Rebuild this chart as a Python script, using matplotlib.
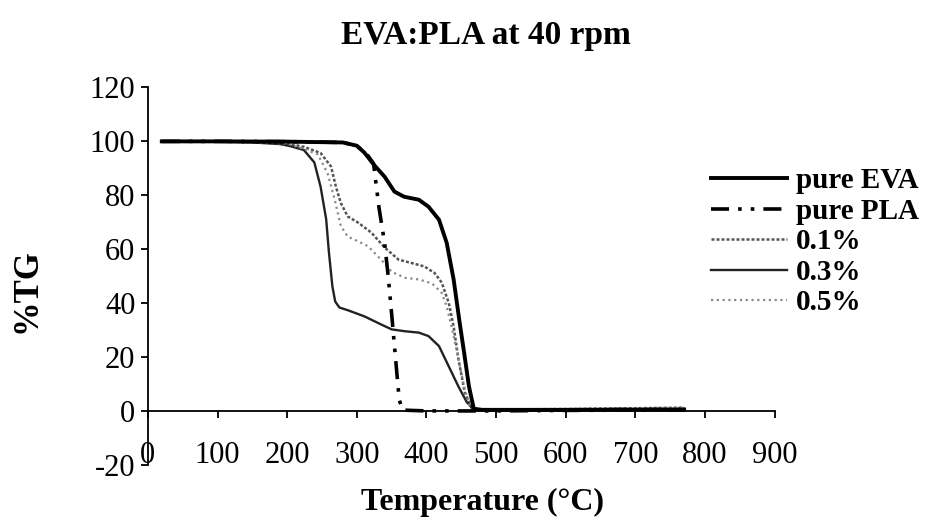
import matplotlib
matplotlib.use("Agg")
import matplotlib.pyplot as plt

plt.rcParams['font.family'] = ['Liberation Serif', 'DejaVu Serif']
plt.rcParams['axes.unicode_minus'] = False

# thermogravimetric curves (temperature in C, weight in %)
t_eva = [20, 100, 200, 280, 300, 311, 325, 340, 354, 368, 389, 403, 418, 429,
         439, 447, 454, 461, 468, 480, 600, 700, 770]
w_eva = [99.8, 99.8, 99.7, 99.4, 98.2, 95.6, 91, 86.7, 81.2, 79.3, 78.2, 75.6,
         70.8, 62.3, 48.7, 33.9, 21.7, 9.1, 0.8, 0.4, 0.4, 0.5, 0.5]

t_pla = [20, 100, 200, 280, 300, 316, 324, 332, 340, 345, 350, 357, 361, 366,
         400, 500, 600, 700, 770]
w_pla = [99.8, 99.8, 99.7, 99.4, 98.2, 94.5, 91.6, 75, 62, 50, 36, 15.4, 4,
         0.3, 0, 0, 0.2, 0.3, 0.3]

t_01 = [20, 100, 150, 200, 224, 248, 263, 270, 277, 287, 302, 321, 340, 360,
        378, 397, 412, 422, 432, 439, 446, 455, 465, 480, 600, 700, 770]
w_01 = [99.8, 99.7, 99.5, 99, 97.8, 95.5, 90.5, 83, 77, 72, 69.7, 66, 60.5,
        56, 54.8, 53.5, 51, 47.5, 40, 31.3, 19, 6.9, 1, 0.5, 0.7, 1, 1.2]

t_03 = [20, 100, 150, 190, 205, 224, 239, 248, 256, 260, 265, 269, 275, 288,
        311, 335, 350, 369, 389, 403, 418, 432, 446, 458, 468, 480, 600, 700, 770]
w_03 = [99.8, 99.7, 99.4, 98.8, 98, 96.6, 92, 83, 71, 58.6, 46, 40.5, 38.3,
        37.2, 35, 32, 30.2, 29.5, 29, 27.7, 24, 16.5, 9, 3.2, 0.6, 0.4, 0.5,
        0.6, 0.8]

t_05 = [20, 100, 150, 200, 224, 244, 258, 268, 277, 287, 296, 316, 335, 350,
        369, 389, 408, 422, 429, 436, 444, 454, 462, 475, 600, 700, 770]
w_05 = [99.8, 99.7, 99.5, 99, 97, 95, 88, 78.5, 68.5, 64.5, 63.5, 61, 56,
        51.5, 49.3, 48.7, 47.2, 43.7, 38.7, 31.3, 21.6, 9, 1.8, 0.5, 0.7, 1, 1.2]

labels = ['pure EVA', 'pure PLA', '0.1%', '0.3%', '0.5%']
x_ticks = [0, 100, 200, 300, 400, 500, 600, 700, 800, 900]
y_ticks = [-20, 0, 20, 40, 60, 80, 100, 120]

dpi = 100
fig = plt.figure(figsize=(9.3, 5.23), dpi=dpi)
ax = fig.add_axes([0.159, 0.111, 0.674, 0.723])

ax.plot(t_eva, w_eva, color='black', lw=2.8, label=labels[0], zorder=5)
ax.plot(t_pla, w_pla, color='black', lw=2.6, dashes=(5, 2.5, 1, 2.5, 1, 2.5),
        label=labels[1], zorder=4)
ax.plot(t_01, w_01, color='#555555', lw=1.8, dashes=(1.2, 0.8), label=labels[2])
ax.plot(t_03, w_03, color='#222222', lw=1.7, label=labels[3])
ax.plot(t_05, w_05, color='#8a8a8a', lw=1.6, dashes=(1, 1.6), label=labels[4])

ax.set_xlim(0, 900)
ax.set_ylim(-20, 120)
ax.set_xticks(x_ticks)
ax.set_yticks(y_ticks)

for s in ['top', 'right']:
    ax.spines[s].set_visible(False)
ax.spines['bottom'].set_position(('data', 0))
ax.spines['bottom'].set_linewidth(1.3)
ax.spines['left'].set_linewidth(1.3)

ax.tick_params(axis='x', direction='out', length=5, width=1.3, pad=17,
               labelsize=22)
ax.tick_params(axis='y', direction='out', length=5, width=1.3, pad=4,
               labelsize=22)

fig.text(0.522, 0.933, 'EVA:PLA at 40 rpm', ha='center', va='center',
         fontsize=24, fontweight='bold')
fig.text(0.519, 0.04, 'Temperature (\u00b0C)', ha='center', va='center',
         fontsize=23, fontweight='bold')
fig.text(0.029, 0.445, '%TG', ha='center', va='center', rotation=90,
         fontsize=25, fontweight='bold')

fig.legend(loc='upper left', bbox_to_anchor=(0.765, 0.68), frameon=False,
           handlelength=2.6, handletextpad=0.3, labelspacing=0.12,
           borderpad=0, borderaxespad=0,
           prop={'weight': 'bold', 'size': 21})

plt.savefig('out.png', dpi=dpi)
